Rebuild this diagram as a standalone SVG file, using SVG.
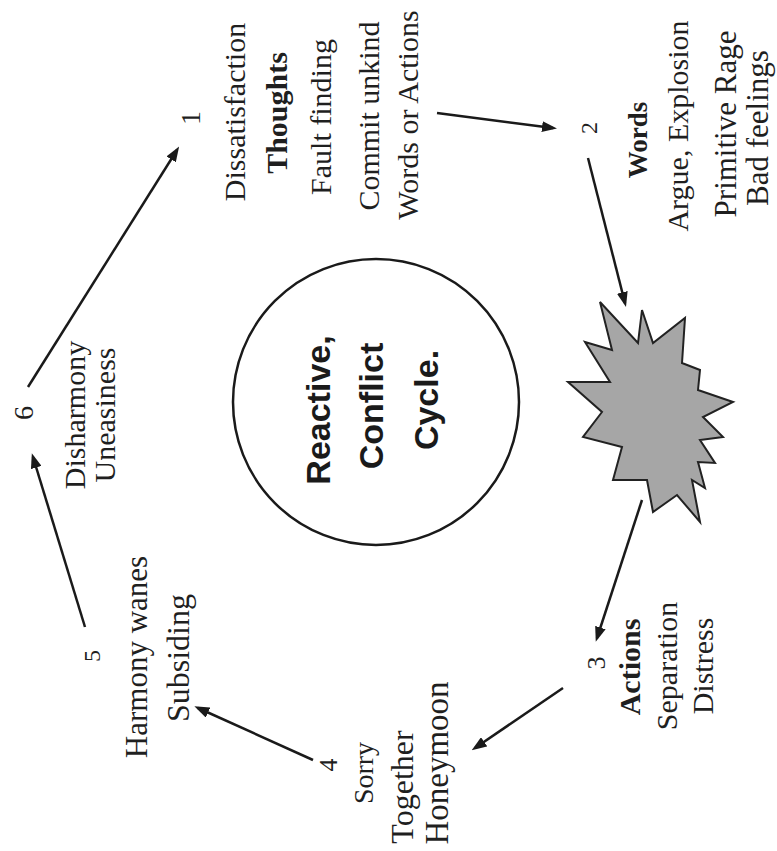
<svg xmlns="http://www.w3.org/2000/svg" width="777" height="851" viewBox="0 0 777 851">
<style>
.t{font-family:"Liberation Serif","Times New Roman",serif;fill:#1f1f1f;text-anchor:middle}
.b{font-weight:bold}
.c{font-family:"Liberation Sans",Arial,sans-serif;font-weight:bold;font-size:34px;fill:#1a1a1a;text-anchor:middle}
.ln{stroke:#1a1a1a;stroke-width:2.5;fill:none;marker-end:url(#ah)}
</style>
<defs>
<marker id="ah" markerUnits="userSpaceOnUse" markerWidth="15" markerHeight="11" refX="11" refY="5.5" orient="auto">
<path d="M0,0 L15,5.5 L0,11 z" fill="#1a1a1a"/>
</marker>
</defs>
<rect width="777" height="851" fill="#ffffff"/>
<g id="connectors">
<line class="ln" x1="28" y1="387" x2="177" y2="150"/>
<line class="ln" x1="437" y1="113" x2="553" y2="128"/>
<line class="ln" x1="588" y1="158" x2="625" y2="303"/>
<line class="ln" x1="642" y1="500" x2="597" y2="638"/>
<line class="ln" x1="563" y1="688" x2="475" y2="748"/>
<line class="ln" x1="313" y1="760" x2="198" y2="708"/>
<line class="ln" x1="85" y1="627" x2="33" y2="457"/>
</g>
<g id="center">
<circle cx="376" cy="402" r="143" fill="none" stroke="#1a1a1a" stroke-width="2.5"/>
<text class="c" transform="translate(330,410) rotate(-90)">Reactive,</text>
<text class="c" transform="translate(383,406) rotate(-90)">Conflict</text>
<text class="c" transform="translate(438,400) rotate(-90)">Cycle.</text>
</g>
<g id="burst">
<polygon points="600,302 638,343 642,310 653,343 685,318 682,363 700,370 698,390 733,402 703,417 723,437 700,440 715,463 698,462 705,488 692,480 700,522 677,495 653,512 647,480 613,480 622,447 583,437 602,412 568,382 610,382 585,342 612,350" fill="#a6a6a6" stroke="#222" stroke-width="2" stroke-linejoin="miter"/>
</g>
<g id="node1">
<text class="t" font-size="28" transform="translate(200,118) rotate(-90)">1</text>
<text class="t" font-size="30" transform="translate(245,112) rotate(-90)">Dissatisfaction</text>
<text class="t b" font-size="30" transform="translate(287,113) rotate(-90)">Thoughts</text>
<text class="t" font-size="30" transform="translate(331,117) rotate(-90)">Fault finding</text>
<text class="t" font-size="30" transform="translate(379,116) rotate(-90)">Commit unkind</text>
<text class="t" font-size="30" transform="translate(418,115) rotate(-90)">Words or Actions</text>
</g>
<g id="node2">
<text class="t" font-size="24" transform="translate(597,128) rotate(-90)">2</text>
<text class="t b" font-size="27" transform="translate(647,140) rotate(-90)">Words</text>
<text class="t" font-size="30" transform="translate(688,126) rotate(-90)">Argue, Explosion</text>
<text class="t" font-size="31" transform="translate(736,124) rotate(-90)">Primitive Rage</text>
<text class="t" font-size="31" transform="translate(768,128) rotate(-90)">Bad feelings</text>
</g>
<g id="node3">
<text class="t" font-size="26" transform="translate(605,663) rotate(-90)">3</text>
<text class="t b" font-size="30" transform="translate(640,667) rotate(-90)">Actions</text>
<text class="t" font-size="30" transform="translate(677,666) rotate(-90)">Separation</text>
<text class="t" font-size="30" transform="translate(713,666) rotate(-90)">Distress</text>
</g>
<g id="node4">
<text class="t" font-size="26" transform="translate(337,765) rotate(-90)">4</text>
<text class="t" font-size="28" transform="translate(373,773) rotate(-90)">Sorry</text>
<text class="t" font-size="32" transform="translate(413,787) rotate(-90)">Together</text>
<text class="t" font-size="33" transform="translate(448,763) rotate(-90)">Honeymoon</text>
</g>
<g id="node5">
<text class="t" font-size="24" transform="translate(100,656) rotate(-90)">5</text>
<text class="t" font-size="31" transform="translate(147,657) rotate(-90)">Harmony wanes</text>
<text class="t" font-size="32" transform="translate(189,658) rotate(-90)">Subsiding</text>
</g>
<g id="node6">
<text class="t" font-size="28" transform="translate(33,413) rotate(-90)">6</text>
<text class="t" font-size="30" transform="translate(85,415) rotate(-90)">Disharmony</text>
<text class="t" font-size="30" transform="translate(115,415) rotate(-90)">Uneasiness</text>
</g>
</svg>
